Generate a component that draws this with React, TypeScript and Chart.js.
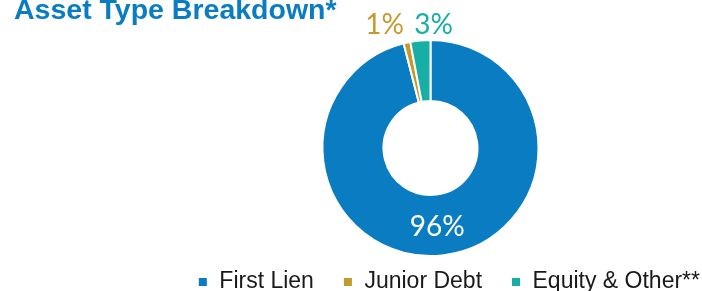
import React, { useEffect, useRef } from 'react';
import { Chart, registerables } from 'chart.js';

Chart.register(...registerables);

const chartTitle = 'Asset Type Breakdown*';
const categories = ['First Lien', 'Junior Debt', 'Equity & Other**'];
const values = [96, 1, 3];
const valueLabels = ['96%', '1%', '3%'];
const sliceColors = ['#0A7CC2', '#C39A2E', '#17AEA6'];
const labelColors = ['#FFFFFF', '#C39A2E', '#17AEA6'];
const labelPlacement = ['inside', 'outside', 'outside'];
const labelAlign = ['center', 'right', 'left'];

const pctLabels = {
  id: 'pctLabels',
  afterDatasetsDraw(chart: any) {
    const ctx = chart.ctx;
    const meta = chart.getDatasetMeta(0);
    ctx.save();
    ctx.font = '400 28px Lato';
    ctx.textBaseline = 'middle';
    meta.data.forEach((arc: any, i: number) => {
      const p = arc.getProps(['x', 'y', 'startAngle', 'endAngle', 'innerRadius', 'outerRadius'], true);
      const mid = (p.startAngle + p.endAngle) / 2;
      ctx.fillStyle = labelColors[i];
      if (labelPlacement[i] === 'inside') {
        const r = (p.innerRadius + p.outerRadius) / 2;
        ctx.textAlign = 'center';
        ctx.fillText(valueLabels[i], p.x + Math.cos(mid) * r - 3, p.y + Math.sin(mid) * r + 2);
      } else {
        const ax = p.x + Math.cos(mid) * p.outerRadius;
        const ty = p.y - p.outerRadius - 15;
        ctx.textAlign = labelAlign[i];
        ctx.fillText(valueLabels[i], labelAlign[i] === 'right' ? ax - 3 : ax - 6, ty);
      }
    });
    ctx.restore();
  },
};

export default function App() {
  const canvasRef = useRef<HTMLCanvasElement | null>(null);

  useEffect(() => {
    if (!canvasRef.current) return;
    const chart = new Chart(canvasRef.current, {
      type: 'doughnut',
      data: {
        labels: categories,
        datasets: [
          {
            data: values,
            backgroundColor: sliceColors,
            borderColor: '#FFFFFF',
            borderWidth: 2,
          },
        ],
      },
      options: {
        responsive: false,
        animation: false,
        radius: 108,
        cutout: '43.5%',
        layout: { padding: { left: 159, right: -27, top: 54.5, bottom: -12.5 } },
        plugins: {
          legend: {
            position: 'bottom',
            align: 'end',
            labels: {
              font: { family: "'Liberation Sans', Arial, sans-serif", size: 23 },
              color: '#1A1A1A',
              boxWidth: 10,
              boxHeight: 10,
              padding: 29,
            },
          },
          tooltip: { enabled: false },
        },
      } as any,
      plugins: [pctLabels],
    });
    return () => chart.destroy();
  }, []);

  return (
    <div style={{ position: 'absolute', left: 0, top: 0, width: 702, height: 291, overflow: 'hidden', background: '#FFFFFF' }}>
      <canvas ref={canvasRef} width={702} height={291} style={{ position: 'absolute', left: 0, top: 0 }} />
      <div
        style={{
          position: 'absolute',
          left: 14,
          top: -5,
          font: "bold 28.5px 'Liberation Sans', Arial, sans-serif",
          lineHeight: '28.5px',
          color: '#0A7CC2',
          whiteSpace: 'nowrap',
        }}
      >
        {chartTitle}
      </div>
    </div>
  );
}
